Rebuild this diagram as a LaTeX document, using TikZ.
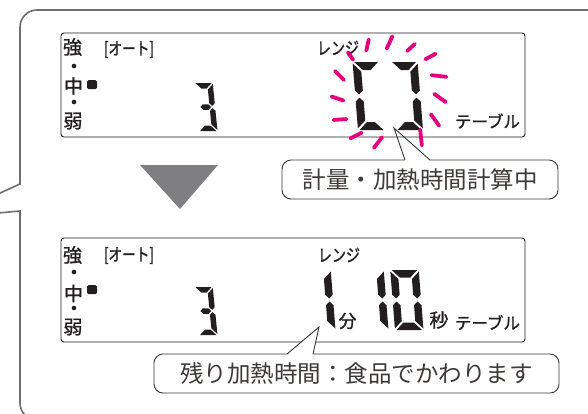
\documentclass[tikz,border=0pt]{standalone}
\usepackage{fontspec}
\newfontfamily\jp{Noto Sans CJK JP}
\newfontfamily\jpb[FakeBold=1.2]{Noto Sans CJK JP}
\definecolor{ink}{HTML}{231F20}
\definecolor{framec}{HTML}{6E6E6E}
\definecolor{mag}{HTML}{E4007F}
\definecolor{tri}{HTML}{7F7F81}
\definecolor{ctext}{HTML}{3E3A39}
% seven-segment helpers (mitered segments), local units: W width, H height, T thickness, G gap
\newcommand\segXa{\fill[ink] ({\sG},{\sH}) -- ({\sW-\sG},{\sH}) -- ({\sW-\sT-\sG},{\sH-\sT}) -- ({\sT+\sG},{\sH-\sT}) -- cycle;}
\newcommand\segXd{\fill[ink] ({\sG},0) -- ({\sW-\sG},0) -- ({\sW-\sT-\sG},{\sT}) -- ({\sT+\sG},{\sT}) -- cycle;}
\newcommand\segXf{\fill[ink] (0,{\sH-\sG}) -- ({\sT},{\sH-\sT-\sG}) -- ({\sT},{\sH/2+\sT/2+\sG}) -- ({\sT/2},{\sH/2+\sG}) -- (0,{\sH/2+\sT/2+\sG}) -- cycle;}
\newcommand\segXe{\fill[ink] (0,{\sG}) -- ({\sT},{\sT+\sG}) -- ({\sT},{\sH/2-\sT/2-\sG}) -- ({\sT/2},{\sH/2-\sG}) -- (0,{\sH/2-\sT/2-\sG}) -- cycle;}
\newcommand\segXb{\fill[ink] ({\sW},{\sH-\sG}) -- ({\sW-\sT},{\sH-\sT-\sG}) -- ({\sW-\sT},{\sH/2+\sT/2+\sG}) -- ({\sW-\sT/2},{\sH/2+\sG}) -- ({\sW},{\sH/2+\sT/2+\sG}) -- cycle;}
\newcommand\segXc{\fill[ink] ({\sW},{\sG}) -- ({\sW-\sT},{\sT+\sG}) -- ({\sW-\sT},{\sH/2-\sT/2-\sG}) -- ({\sW-\sT/2},{\sH/2-\sG}) -- ({\sW},{\sH/2-\sT/2-\sG}) -- cycle;}
\newcommand\segXg{\fill[ink] ({\sT/2+\sG},{\sH/2}) -- ({\sT+\sG},{\sH/2+\sT/2}) -- ({\sW-\sT-\sG},{\sH/2+\sT/2}) -- ({\sW-\sT/2-\sG},{\sH/2}) -- ({\sW-\sT-\sG},{\sH/2-\sT/2}) -- ({\sT+\sG},{\sH/2-\sT/2}) -- cycle;}
\newcommand\segdigit[7]{%
  \begin{scope}[shift={(#1,#2)},yscale=-1,xslant=#6]
    \def\sW{#3}\def\sH{#4}\def\sT{#5}%
    \pgfmathsetmacro\sG{#5*0.2}%
    \foreach \segname in {#7}{\csname segX\segname\endcsname}
  \end{scope}}
\begin{document}
\begin{tikzpicture}[x=1pt,y=-1pt,
  panel/.style={draw=ink, line width=0.9pt, rounded corners=3pt},
  callout/.style={draw=ink!90, line width=0.9pt, rounded corners=9pt, fill=white,
    inner sep=0pt, font=\jp\fontsize{23.5}{26}\selectfont, text=ctext},
  lbl/.style={inner sep=0pt, text=ink, font=\jpb\fontsize{19}{20}\selectfont},
  small/.style={inner sep=0pt, text=ink, font=\jpb\fontsize{17.5}{19}\selectfont},
  ray/.style={draw=mag, line width=3.8pt, line cap=round, shorten >=1.5pt, shorten <=1.5pt},
  tailfill/.style={fill=white},
  tailline/.style={draw=ink!90, line width=0.9pt}]
\useasboundingbox (0,0) rectangle (588,413);
% outer frame
\draw[framec, line width=1.6pt] (600,10) [rounded corners=17pt] -- (20,10) -- (20,100) [sharp corners] -- (20,184) -- (-2,194);
\draw[framec, line width=1.6pt] (-2,213) -- (20,211) -- (20,300) [rounded corners=17pt] -- (20,420) -- (600,420);
% arrow triangle
\fill[tri] (140,165) -- (218,165) -- (180,209) -- cycle;
% top callout
\node[callout, minimum width=276pt, minimum height=39pt] (c1) at (420,179.5) {計量・加熱時間計算中};
\coordinate (tipA) at (394,128);
\coordinate (bA1) at (405,160);
\coordinate (bA2) at (430,160);
\fill[tailfill] ([yshift=-1pt]bA1) -- (tipA) -- ([yshift=-1pt]bA2) -- cycle;
\draw[tailline] (bA1) -- (tipA) -- (bA2);
% top panel
\draw[panel] (61,33) rectangle (525,137);
\node[lbl] (s1) at (72.5,47) {強};
\fill[ink] (74,66) circle (2.3pt);
\node[lbl] (m1) at (73.5,86) {中};
\fill[ink, rounded corners=1.5pt] (87,80) rectangle (97,89);
\fill[ink] (74,102) circle (2.3pt);
\node[lbl] (w1) at (73,121) {弱};
\node[small, xscale=0.78] (o1) at (129,49.5) {[オート]};
\node[small, xscale=0.8] (r1) at (338,48) {レンジ};
\node[small, font=\jpb\fontsize{16.5}{18}\selectfont] (t1) at (487.5,121) {テーブル};
\segdigit{199}{131}{18.5}{48}{5.5}{0.1}{a,b,g,c,d}
\segdigit{358}{130}{27}{68}{8}{0.08}{a,f,e,d}
\segdigit{396}{130}{27}{68}{8}{0.08}{a,b,c,d}
\foreach \xa/\ya/\xb/\yb in {334/70/345/81, 347/51/354/61, 369/38/366/52, 393/35/386/50, 416/43/406/52, 437/53/424/60, 448/77/430/75, 447/103/433/93, 440/127/430/113, 422/147/420/128, 373/149/383/136, 349/139/363/132, 332/120/348/119, 330/96/345/101}
  \draw[ray] (\xa,\ya) -- (\xb,\yb);
% bottom panel
\draw[panel] (61,238) rectangle (525,342);
\node[lbl] (s2) at (72.5,255) {強};
\fill[ink] (74,272) circle (2.3pt);
\node[lbl] (m2) at (73.5,293.5) {中};
\fill[ink, rounded corners=1.5pt] (87,285) rectangle (97,294);
\fill[ink] (74,308) circle (2.3pt);
\node[lbl] (w2) at (73,327) {弱};
\node[small, xscale=0.78] (o2) at (129,255.5) {[オート]};
\node[small, xscale=0.8] (r2) at (339,255) {レンジ};
\node[lbl, font=\jpb\fontsize{18}{20}\selectfont] (fun) at (347.5,321) {分};
\node[lbl] (byo) at (439,320) {秒};
\node[small, font=\jpb\fontsize{16.5}{18}\selectfont] (t2) at (487.5,322.5) {テーブル};
\segdigit{199}{335}{18.5}{48}{5.5}{0.1}{a,b,g,c,d}
\segdigit{315}{330}{20.5}{60}{7.5}{0.08}{b,c}
\segdigit{368}{330}{20.5}{60}{7.5}{0.08}{b,c}
\segdigit{395}{330}{28.5}{60}{7.5}{0.08}{a,b,c,d,e,f}
% bottom callout
\node[callout, minimum width=405pt, minimum height=39pt] (c2) at (356.5,373.5) {残り加熱時間：食品でかわります};
\coordinate (tipB) at (319,327);
\coordinate (bB1) at (287,354);
\coordinate (bB2) at (313,354);
\fill[tailfill] ([yshift=-1pt]bB1) -- (tipB) -- ([yshift=-1pt]bB2) -- cycle;
\draw[tailline] (bB1) -- (tipB) -- (bB2);
\end{tikzpicture}
\end{document}
